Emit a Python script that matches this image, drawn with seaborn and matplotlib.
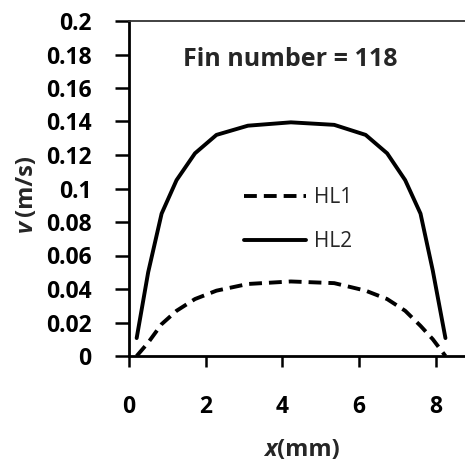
import numpy as np
import pandas as pd
import seaborn as sns
import matplotlib.pyplot as plt

# data
x_mm = [0.2, 0.5, 0.85, 1.24, 1.72, 2.28, 3.1, 4.22, 5.35, 6.17, 6.73, 7.2, 7.6, 7.92, 8.25]
v_hl1 = [0.0, 0.008, 0.019, 0.027, 0.034, 0.039, 0.043, 0.0445, 0.0435, 0.039, 0.034, 0.027, 0.018, 0.010, 0.0]
v_hl2 = [0.0107, 0.050, 0.085, 0.105, 0.121, 0.132, 0.1375, 0.1395, 0.138, 0.132, 0.121, 0.105, 0.085, 0.051, 0.0107]
x_ticks = [0, 2, 4, 6, 8]
y_ticks = [0, 0.02, 0.04, 0.06, 0.08, 0.1, 0.12, 0.14, 0.16, 0.18, 0.2]
y_tick_labels = ['0', '0.02', '0.04', '0.06', '0.08', '0.1', '0.12', '0.14', '0.16', '0.18', '0.2']

df = pd.DataFrame({'x': x_mm * 2,
                   'v': v_hl1 + v_hl2,
                   'series': ['HL1'] * len(x_mm) + ['HL2'] * len(x_mm)})

sns.set_style('ticks')
plt.rcParams['font.family'] = ['Open Sans', 'DejaVu Sans']

fig = plt.figure(figsize=(4.65, 4.67), dpi=100)
ax = fig.add_axes([129 / 465, 1 - 356 / 467, 1 - 129 / 465, (356 - 21) / 467])

sns.lineplot(data=df[df.series == 'HL1'], x='x', y='v', color='black', lw=2.8,
             linestyle=(0, (3.3, 1.8)), label='HL1', ax=ax)
sns.lineplot(data=df[df.series == 'HL2'], x='x', y='v', color='black', lw=2.8,
             label='HL2', ax=ax)

ax.set_xlim(0, 8.76)
ax.set_ylim(0, 0.2)
ax.set_xticks(x_ticks)
ax.set_yticks(y_ticks)
ax.set_yticklabels(y_tick_labels)
for lab in ax.get_xticklabels() + ax.get_yticklabels():
    lab.set_fontweight('bold')
    lab.set_fontsize(16.5)

ax.tick_params(axis='x', direction='out', length=8, width=1.8, pad=20, colors='black')
ax.tick_params(axis='y', direction='out', length=10, width=1.8, pad=17, colors='black')

for s in ['left', 'bottom']:
    ax.spines[s].set_linewidth(2)
    ax.spines[s].set_color('black')
ax.spines['top'].set_visible(True)
ax.spines['top'].set_linewidth(1.3)
ax.spines['top'].set_color('#333333')
ax.spines['right'].set_visible(False)

ax.set_xlabel('')
ax.set_ylabel('')
# axis titles with italic variable names
fig.text(264 / 465, 1 - 450 / 467, 'x', fontsize=17, fontweight='bold', style='italic',
         ha='left', va='center')
fig.text(277 / 465, 1 - 450 / 467, '(mm)', fontsize=17, fontweight='bold', ha='left', va='center')
fig.text(26 / 465, 1 - 220 / 467, 'v', fontsize=17, fontweight='bold', style='italic',
         rotation=90, ha='center', va='top')
fig.text(26 / 465, 1 - 216 / 467, '(m/s)', fontsize=17, fontweight='bold',
         rotation=90, ha='center', va='bottom')

ax.text(0.48, 0.885, 'Fin number = 118', transform=ax.transAxes, ha='center', va='center',
        fontsize=18, fontweight='bold')

ax.legend(loc='upper left', bbox_to_anchor=(0.285, 0.56), frameon=False, fontsize=15,
          handlelength=3.0, labelspacing=1.1, handletextpad=0.4)

fig.savefig('out.png', dpi=100)
